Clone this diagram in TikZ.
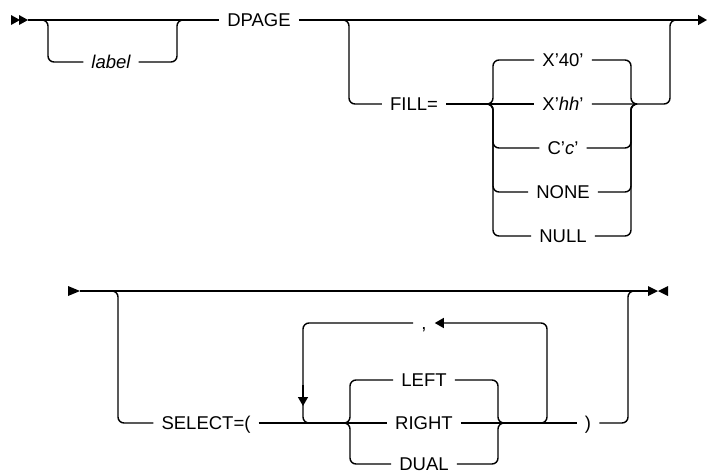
\documentclass[tikz,border=0pt]{standalone}
\usepackage{fontspec}
\setmainfont{Liberation Sans}
\usetikzlibrary{arrows.meta}
\tikzset{>=Stealth}
\newcommand\railfont{\fontsize{18.5}{22}\selectfont}
\newcommand\sq{\symbol{39}}

\begin{document}
\begin{tikzpicture}[
    x=1pt, y=-1pt,
    kw/.style={font=\railfont, inner xsep=8pt, inner ysep=0pt, text height=13.2pt, text depth=0pt},
    var/.style={kw, font=\railfont\itshape},
    rail/.style={line width=1.4pt, rounded corners=6pt},
    tipend/.style={-{Triangle[length=9pt,width=10pt]}}
  ]
    \useasboundingbox (0,0) rectangle (707,472);

    % first line
    \coordinate (st1) at (28,20);
    \coordinate (en1) at (707,20);
    \fill (11,15) -- (20,20) -- (11,25) -- cycle;
    \fill (19,15) -- (28,20) -- (19,25) -- cycle;
    \node[kw] (dpage) at (259,20) {DPAGE};
    \node[var] (lab) at (111,62) {label};
    \draw[rail] (st1) -- (dpage.west);
    \draw[rail, tipend] (dpage.east) -- (en1);
    \draw[rail] (42,20) -- (48,20) -- (48,62) -- (lab.west);
    \draw[rail] (lab.east) -- (177,62) -- (177,20) -- (183,20);

    \node[kw] (fill) at (414,104) {FILL=};
    \node[kw] (x40) at (563,60) {X\sq40\sq};
    \node[kw] (xhh) at (563,104) {X\sq\textit{hh}\sq};
    \node[kw] (cc) at (563,148) {C\sq\textit{c}\sq};
    \node[kw] (none) at (563,192) {NONE};
    \node[kw] (null) at (563,236) {NULL};
    \draw[rail] (342,20) -- (349,20) -- (349,104) -- (fill.west);
    \draw[rail] (fill.east) -- (xhh.west);
    \foreach \n/\y in {x40/60, cc/148, none/192, null/236} {
      \draw[rail] (487,104) -- (493,104) -- (493,\y) -- (\n.west);
      \draw[rail] (\n.east) -- (631,\y) -- (631,104) -- (637,104);
    }
    \draw[rail] (xhh.east) -- (670,104) -- (670,20) -- (676,20);

    % second line
    \coordinate (st2) at (80,291);
    \coordinate (en2) at (648,291);
    \fill (68,286) -- (80,291) -- (68,296) -- cycle;
    \fill (648,286) -- (658,291) -- (648,296) -- cycle;
    \fill (668,286) -- (658,291) -- (668,296) -- cycle;
    \draw[rail] (st2) -- (en2);

    \node[kw] (select) at (206,423) {SELECT=(};
    \node[kw] (left) at (424,380) {LEFT};
    \node[kw] (right) at (424,423) {RIGHT};
    \node[kw] (dual) at (424,464) {DUAL};
    \node[kw] (comma) at (424,323) {,};
    \node[kw] (rpar) at (588,423) {)};
    \draw[rail] (112,291) -- (118,291) -- (118,423) -- (select.west);
    \draw[rail] (select.east) -- (right.west);
    \draw[rail] (right.east) -- (rpar.west);
    \draw[rail] (rpar.east) -- (628,423) -- (628,291) -- (634,291);
    \foreach \n/\y in {left/380, dual/464} {
      \draw[rail] (344,423) -- (350,423) -- (350,\y) -- (\n.west);
      \draw[rail] (\n.east) -- (498,\y) -- (498,423) -- (504,423);
    }
    % repeat loop
    \draw[rail, tipend] (541,423) -- (547,423) -- (547,323) -- (comma.east);
    \draw[rail] (comma.west) -- (303,323) -- (303,423) -- (309,423);
    \draw[rail, tipend] (303,385) -- (303,406);
  \end{tikzpicture}
\end{document}
